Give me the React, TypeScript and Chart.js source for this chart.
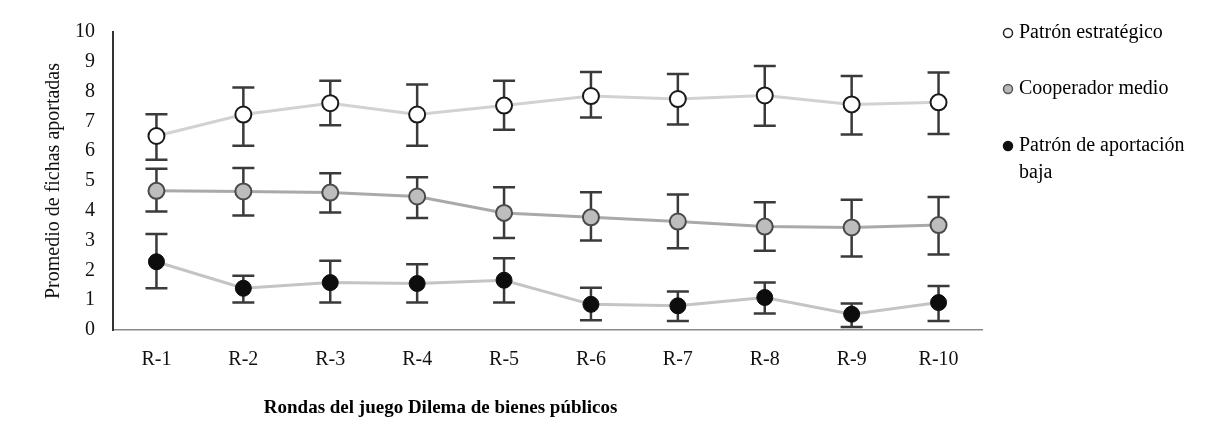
import React, { useEffect, useRef } from "react";
import { Chart, registerables } from "chart.js";

Chart.register(...registerables);

const categories = ["R-1", "R-2", "R-3", "R-4", "R-5", "R-6", "R-7", "R-8", "R-9", "R-10"];

const estrategico = [6.51, 7.23, 7.61, 7.23, 7.53, 7.85, 7.75, 7.87, 7.57, 7.64];
const estrategicoHigh = [7.24, 8.14, 8.36, 8.24, 8.36, 8.66, 8.59, 8.86, 8.52, 8.64];
const estrategicoLow = [5.71, 6.18, 6.87, 6.18, 6.72, 7.13, 6.9, 6.85, 6.56, 6.58];

const cooperador = [4.67, 4.65, 4.61, 4.48, 3.93, 3.78, 3.64, 3.47, 3.44, 3.52];
const cooperadorHigh = [5.41, 5.44, 5.26, 5.13, 4.79, 4.62, 4.55, 4.29, 4.37, 4.46];
const cooperadorLow = [3.98, 3.84, 3.94, 3.76, 3.09, 3.0, 2.74, 2.66, 2.47, 2.53];

const baja = [2.29, 1.4, 1.59, 1.56, 1.67, 0.86, 0.81, 1.09, 0.53, 0.92];
const bajaHigh = [3.22, 1.82, 2.32, 2.21, 2.41, 1.42, 1.29, 1.59, 0.89, 1.48];
const bajaLow = [1.4, 0.92, 0.92, 0.92, 0.92, 0.33, 0.3, 0.55, 0.1, 0.3];

const yTicks = [0, 1, 2, 3, 4, 5, 6, 7, 8, 9, 10];

const seriesNames = ["Patrón estratégico", "Cooperador medio", "Patrón de aportación baja"];
const xTitle = "Rondas del juego Dilema de bienes públicos";
const yTitle = "Promedio de fichas aportadas";

const FONT = "'Liberation Serif', 'Times New Roman', serif";

const errorBarPlugin = {
  id: "errorBars",
  beforeDatasetsDraw(chart: any) {
    const ctx = chart.ctx;
    const yScale = chart.scales.y;
    ctx.save();
    ctx.strokeStyle = "#3a3a3a";
    ctx.lineWidth = 2.5;
    chart.data.datasets.forEach((ds: any, i: number) => {
      const meta = chart.getDatasetMeta(i);
      meta.data.forEach((pt: any, j: number) => {
        const x = pt.x;
        const yh = yScale.getPixelForValue(ds.errHigh[j]);
        const yl = yScale.getPixelForValue(ds.errLow[j]);
        const cap = 11;
        ctx.beginPath();
        ctx.moveTo(x, yh);
        ctx.lineTo(x, yl);
        ctx.moveTo(x - cap, yh);
        ctx.lineTo(x + cap, yh);
        ctx.moveTo(x - cap, yl);
        ctx.lineTo(x + cap, yl);
        ctx.stroke();
      });
    });
    ctx.restore();
  },
};

const annotationsPlugin = {
  id: "annotations",
  afterDraw(chart: any) {
    const ctx = chart.ctx;
    const area = chart.chartArea;
    ctx.save();
    // x-axis title
    ctx.fillStyle = "#000";
    ctx.font = `bold 19px ${FONT}`;
    ctx.textAlign = "center";
    ctx.textBaseline = "middle";
    const tx = area.left + (area.right - area.left) * 0.377;
    ctx.fillText(xTitle, tx, area.bottom + 78);

    // legend
    const lx = area.right + 26;
    const items = [
      { y: area.top + 1, fill: "#ffffff", stroke: "#222", lines: ["Patrón estratégico"] },
      { y: area.top + 57, fill: "#b8b8b8", stroke: "#555", lines: ["Cooperador medio"] },
      { y: area.top + 114, fill: "#111111", stroke: "#111", lines: ["Patrón de aportación", "baja"] },
    ];
    ctx.textAlign = "left";
    ctx.font = `20px ${FONT}`;
    items.forEach((it) => {
      ctx.beginPath();
      ctx.arc(lx, it.y, 4.5, 0, Math.PI * 2);
      ctx.fillStyle = it.fill;
      ctx.fill();
      ctx.lineWidth = 1.5;
      ctx.strokeStyle = it.stroke;
      ctx.stroke();
      ctx.fillStyle = "#000";
      it.lines.forEach((t, li) => {
        ctx.fillText(t, lx + 11, it.y + li * 27);
      });
    });
    ctx.restore();
  },
};

export default function App() {
  const ref = useRef<HTMLCanvasElement | null>(null);

  useEffect(() => {
    if (!ref.current) return;
    const chart = new Chart(ref.current, {
      type: "line",
      data: {
        labels: categories,
        datasets: [
          {
            label: seriesNames[0],
            data: estrategico,
            errHigh: estrategicoHigh,
            errLow: estrategicoLow,
            borderColor: "#d2d2d2",
            borderWidth: 3,
            pointRadius: 8,
            pointBackgroundColor: "#ffffff",
            pointBorderColor: "#1a1a1a",
            pointBorderWidth: 2,
            tension: 0,
          } as any,
          {
            label: seriesNames[1],
            data: cooperador,
            errHigh: cooperadorHigh,
            errLow: cooperadorLow,
            borderColor: "#a9a9a9",
            borderWidth: 3,
            pointRadius: 8,
            pointBackgroundColor: "#bdbdbd",
            pointBorderColor: "#4a4a4a",
            pointBorderWidth: 2,
            tension: 0,
          } as any,
          {
            label: seriesNames[2],
            data: baja,
            errHigh: bajaHigh,
            errLow: bajaLow,
            borderColor: "#c4c4c4",
            borderWidth: 3,
            pointRadius: 8,
            pointBackgroundColor: "#0d0d0d",
            pointBorderColor: "#0d0d0d",
            pointBorderWidth: 1,
            tension: 0,
          } as any,
        ],
      },
      options: {
        animation: false,
        responsive: true,
        maintainAspectRatio: false,
        layout: { padding: { top: 24, right: 235, left: 0, bottom: 0 } },
        plugins: {
          legend: { display: false },
          tooltip: { enabled: false },
        },
        scales: {
          x: {
            offset: true,
            grid: { display: false, drawTicks: false },
            border: { display: true, color: "#8a8a8a", width: 1.5 },
            ticks: {
              color: "#111",
              font: { family: FONT, size: 20 },
              padding: 18,
              maxRotation: 0,
              autoSkip: false,
            },
            afterFit: (scale: any) => {
              scale.height = 106;
            },
          },
          y: {
            min: 0,
            max: 10,
            afterBuildTicks: (scale: any) => {
              scale.ticks = yTicks.map((v) => ({ value: v }));
            },
            grid: {
              display: true,
              drawOnChartArea: false,
              drawTicks: true,
              tickLength: 13,
              color: "rgba(0,0,0,0)",
            },
            border: { display: true, color: "#333333", width: 2 },
            ticks: {
              color: "#111",
              font: { family: FONT, size: 20 },
              padding: 5,
            },
            title: {
              display: true,
              text: yTitle,
              color: "#111",
              font: { family: FONT, size: 20 },
              padding: { top: 34, bottom: 0 },
            },
            afterFit: (scale: any) => {
              scale.width = 105;
            },
          },
        },
      },
      plugins: [errorBarPlugin, annotationsPlugin],
    });
    return () => chart.destroy();
  }, []);

  return (
    <div style={{ width: 1209, height: 428, position: "relative" }}>
      <canvas ref={ref} />
    </div>
  );
}
